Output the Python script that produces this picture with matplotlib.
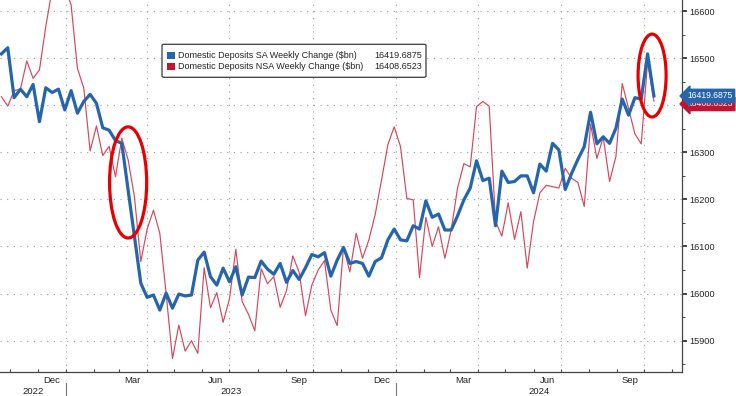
import matplotlib
matplotlib.use("Agg")
import matplotlib.pyplot as plt
import matplotlib.dates as mdates
import matplotlib.transforms as mtransforms
from matplotlib.patches import Ellipse, FancyBboxPatch, Rectangle
from matplotlib.ticker import MultipleLocator
import pandas as pd

plt.rcParams["font.family"] = ["Liberation Sans", "DejaVu Sans"]

# weekly observations
dates = pd.date_range("2022-10-22", periods=104, freq="7D")

sa = [16509, 16522, 16416, 16434, 16418, 16444, 16365, 16437, 16427, 16434,
      16390, 16431, 16383, 16408, 16423, 16404, 16352, 16347, 16325, 16319,
      16220, 16121, 16022, 15992, 15997, 15965, 16001, 15969, 15999, 15995,
      15997, 16071, 16088, 16036, 16018, 16054, 16025, 16057, 15997, 16035,
      16034, 16069, 16052, 16041, 16064, 16024, 16049, 16030, 16055, 16083,
      16078, 16087, 16037, 16071, 16098, 16064, 16068, 16064, 16037, 16068,
      16076, 16114, 16137, 16114, 16112, 16144, 16137, 16197, 16162, 16169,
      16135, 16135, 16165, 16199, 16224, 16282, 16240, 16245, 16144, 16260,
      16236, 16238, 16250, 16250, 16214, 16275, 16260, 16319, 16305, 16221,
      16255, 16285, 16312, 16385, 16318, 16333, 16319, 16351, 16413, 16379,
      16416, 16413, 16509, 16419.6875]

nsa = [16418, 16398, 16431, 16434, 16494, 16457, 16475, 16567, 16645, 16680,
       16650, 16613, 16478, 16436, 16303, 16356, 16293, 16313, 16248, 16330,
       16284, 16205, 16068, 16137, 16177, 16128, 16000, 15862, 15933, 15878,
       15900, 15873, 16055, 15970, 16002, 15939, 15989, 16094, 15983, 15956,
       15921, 16053, 16021, 16036, 15971, 16006, 16080, 16045, 15953, 16018,
       16050, 16070, 15965, 15932, 16098, 16046, 16128, 16075, 16114, 16168,
       16241, 16316, 16354, 16312, 16202, 16199, 16034, 16162, 16100, 16142,
       16075, 16135, 16224, 16276, 16269, 16397, 16408, 16398, 16153, 16122,
       16193, 16115, 16174, 16054, 16153, 16214, 16230, 16227, 16224, 16266,
       16245, 16236, 16185, 16360, 16287, 16332, 16238, 16291, 16446, 16393,
       16339, 16318, 16492, 16408.6523]

sa_label = "Domestic Deposits SA Weekly Change ($bn)"
nsa_label = "Domestic Deposits NSA Weekly Change ($bn)"
month_labels = ["Dec", "Mar", "Jun", "Sep"]
year_labels = ["2022", "2023", "2024"]

blue = "#2565ad"
red = "#d8465c"
ring = "#e80000"

W, H = 736, 396
fig = plt.figure(figsize=(W / 100, H / 100), dpi=100)
ax = fig.add_axes([0, 24 / H, 681.7 / W, 372 / H])

ax.plot(dates, nsa, color=red, lw=0.85, zorder=3)
ax.plot(dates, sa, color=blue, lw=2.3, zorder=4)

ax.set_xlim(pd.Timestamp("2022-10-20 10:00"), pd.Timestamp("2024-11-11 17:00"))
ax.set_ylim(15833.5, 16623.4)

# axes styling
for s in ["left", "top"]:
    ax.spines[s].set_visible(False)
for s in ["right", "bottom"]:
    ax.spines[s].set_color("#444444")
    ax.spines[s].set_linewidth(0.9)

ax.yaxis.tick_right()
ax.yaxis.set_major_locator(MultipleLocator(100))
ax.yaxis.set_minor_locator(MultipleLocator(50))
ax.tick_params(axis="y", which="major", direction="out", length=3.5, width=1.2,
               color="#222222", labelsize=6.6, pad=2, labelcolor="#222222")
ax.tick_params(axis="y", which="minor", direction="out", length=2.5, width=0.7,
               color="#444444")

ax.xaxis.set_major_locator(mdates.MonthLocator(bymonth=[1, 4, 7, 10]))
ax.xaxis.set_minor_locator(mdates.MonthLocator())
ax.xaxis.set_major_formatter(plt.NullFormatter())
ax.tick_params(axis="x", which="both", direction="in", length=2.5, width=0.8,
               color="#444444")

ax.grid(True, which="major", color="#9a9a9a", lw=0.8, linestyle=(0, (1, 5)))

# month / year labels
xt = mtransforms.blended_transform_factory(ax.transData, ax.transAxes)
lo = mdates.num2date(ax.get_xlim()[0]).replace(tzinfo=None)
hi = mdates.num2date(ax.get_xlim()[1]).replace(tzinfo=None)
for yr in [2022, 2023, 2024]:
    for m, name in zip([3, 6, 9, 12], ["Mar", "Jun", "Sep", "Dec"]):
        d = pd.Timestamp(yr, m, 16)
        if name in month_labels and lo < d < hi:
            ax.text(d, -0.022, name, transform=xt, ha="center", va="center",
                    fontsize=6.8, color="#222222")
for lab in year_labels:
    yr = int(lab)
    a = max(pd.Timestamp(yr, 1, 1), lo)
    b = min(pd.Timestamp(yr + 1, 1, 1), hi)
    ax.text(a + (b - a) / 2, -0.052, lab, transform=xt, ha="center", va="center",
            fontsize=6.8, color="#222222")
    if yr > 2022:
        ax.plot([pd.Timestamp(yr, 1, 1)] * 2, [-0.03, -0.07], transform=xt,
                color="#777777", lw=0.8, clip_on=False)

# red rings
e1 = Ellipse((mdates.date2num(dates[20]), sa[20] + 16), width=41, height=236,
             fill=False, ec=ring, lw=2.3, zorder=6)
e2 = Ellipse((mdates.date2num(dates[102]) + 5, 16463), width=31, height=176,
             fill=False, ec=ring, lw=2.3, zorder=6)
ax.add_patch(e1)
ax.add_patch(e2)

# legend box
def fx(px):
    return px / W

def fy(py):
    return 1 - py / H

box = FancyBboxPatch((fx(162), fy(77.3)), fx(426) - fx(162), fy(44.3) - fy(77.3),
                     boxstyle="round,pad=0,rounding_size=0.003",
                     transform=fig.transFigure, fc="white", ec="#3a3a3a", lw=0.9,
                     zorder=10)
fig.add_artist(box)
for row, (lab, vals, col) in enumerate([(sa_label, sa, blue), (nsa_label, nsa, "#c01530")]):
    cy = 55.2 + row * 11.2
    fig.add_artist(Rectangle((fx(167.3), fy(cy + 3.6)), fx(7.3), fy(cy - 3.6) - fy(cy + 3.6),
                             transform=fig.transFigure, fc=col, ec="none", zorder=11))
    fig.text(fx(178.3), fy(cy), lab, ha="left", va="center", fontsize=6.5,
             color="#222222", zorder=12)
    fig.text(fx(374), fy(cy), f"{vals[-1]:.4f}", ha="left", va="center",
             fontsize=6.5, color="#222222", zorder=12)

# last value tags on the right axis (NSA tag sits behind the SA tag)
yt = mtransforms.blended_transform_factory(ax.transAxes, ax.transData)
ax.annotate(f"{nsa[-1]:.4f}", xy=(1, nsa[-1]), xycoords=yt, xytext=(4.0, -2.0),
            textcoords="offset points", ha="left", va="center", fontsize=6.2,
            color="white", annotation_clip=False, zorder=7,
            bbox=dict(boxstyle="larrow,pad=0.25", fc="#c01530", ec="#c01530"))
ax.annotate(f"{sa[-1]:.4f}", xy=(1, sa[-1]), xycoords=yt, xytext=(4.0, 0),
            textcoords="offset points", ha="left", va="center", fontsize=6.2,
            color="white", annotation_clip=False, zorder=8,
            bbox=dict(boxstyle="larrow,pad=0.25", fc=blue, ec=blue))

fig.savefig("out.png", dpi=100)
